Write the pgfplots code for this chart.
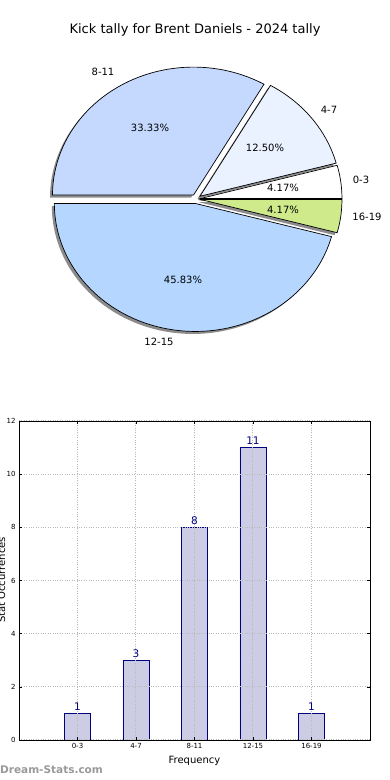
\documentclass[border=0pt]{standalone}
\usepackage{pgfplots}
\pgfplotsset{compat=1.18}
\usepackage{fontspec}
\setmainfont{DejaVu Sans}
\definecolor{cA}{RGB}{255,255,255}
\definecolor{cB}{RGB}{234,241,255}
\definecolor{cC}{RGB}{197,217,255}
\definecolor{cD}{RGB}{180,214,255}
\definecolor{cE}{RGB}{206,234,138}
\definecolor{barfill}{RGB}{204,204,228}
\definecolor{navy}{RGB}{0,0,128}
\def\cx{196}\def\cy{581}\def\rx{141}\def\ry{128}\def\ex{5}\def\ey{4.5}
\newcommand\pieslice[5]{%
 \pgfmathsetmacro\midA{(#1+#2)/2}%
 \pgfmathsetmacro\ox{\cx+\ex*cos(\midA)+#3}%
 \pgfmathsetmacro\oy{\cy+\ey*sin(\midA)+#4}%
 \edef\doslice{\noexpand\addplot[#5, domain=#1:#2, samples=90] ({\ox+\rx*cos(x)},{\oy+\ry*sin(x)}) -- (axis cs:\ox,\oy) -- cycle;}%
 \doslice}
\begin{document}
\begin{tikzpicture}[x=1pt,y=1pt]
\useasboundingbox (0,0) rectangle (390,780);
\clip (0,0) rectangle (390,780);
\begin{axis}[at={(0pt,0pt)}, anchor=south west, scale only axis, width=390pt, height=780pt,
  xmin=0, xmax=390, ymin=0, ymax=780, hide axis, clip=false]
% slice angles from counts 1,3,8,11,1 of 24 (x 15 degrees)
% shadows
\pieslice{0}{15}{-2.5}{-2.5}{fill=black!45, draw=none}
\pieslice{15}{60}{-2.5}{-2.5}{fill=black!45, draw=none}
\pieslice{60}{180}{-2.5}{-2.5}{fill=black!45, draw=none}
\pieslice{180}{345}{-2.5}{-2.5}{fill=black!45, draw=none}
\pieslice{345}{360}{-2.5}{-2.5}{fill=black!45, draw=none}
% slices
\pieslice{0}{15}{0}{0}{fill=cA, draw=black, line width=0.7pt}
\pieslice{15}{60}{0}{0}{fill=cB, draw=black, line width=0.7pt}
\pieslice{60}{180}{0}{0}{fill=cC, draw=black, line width=0.7pt}
\pieslice{180}{345}{0}{0}{fill=cD, draw=black, line width=0.7pt}
\pieslice{345}{360}{0}{0}{fill=cE, draw=black, line width=0.7pt}
\node[font=\fontsize{13}{15}\selectfont] at (axis cs:195,750) {Kick tally for Brent Daniels - 2024 tally};
\begin{scope}[font=\fontsize{10}{12}\selectfont]
\node at (axis cs:103,708) {8-11};
\node at (axis cs:329,670) {4-7};
\node at (axis cs:361,600) {0-3};
\node at (axis cs:367,563) {16-19};
\node at (axis cs:159,438) {12-15};
\node at (axis cs:150,652) {33.33\%};
\node at (axis cs:265,632) {12.50\%};
\node at (axis cs:283,592) {4.17\%};
\node at (axis cs:283,570) {4.17\%};
\node at (axis cs:183,500) {45.83\%};
\end{scope}
\node[anchor=west, text=black!40, font=\bfseries\fontsize{10.5}{13}\selectfont, inner sep=0] at (axis cs:0,10) {Dream-Stats.com};
\node[rotate=90, anchor=base, inner sep=0, font=\fontsize{10}{12}\selectfont] at (axis cs:5,200) {Stat Occurrences};
\end{axis}
\begin{axis}[at={(19pt,40pt)}, anchor=south west, scale only axis, width=351pt, height=319pt,
  xmin=-1, xmax=5, ymin=0, ymax=12,
  xtick={0,1,2,3,4}, xticklabels={0-3,4-7,8-11,12-15,16-19},
  ytick={0,2,4,6,8,10,12},
  grid=major, major grid style={dotted, black!28, line width=1pt},
  axis on top,
  tick align=inside, major tick length=3pt, tick style={black, line width=0.6pt},
  axis line style={black, line width=0.8pt},
  ticklabel style={font=\fontsize{7}{8}\selectfont},
  /pgf/number format/assume math mode=true,
  xlabel={Frequency}, xlabel style={font=\fontsize{10}{12}\selectfont, yshift=-1pt},
]
\addplot[ybar, bar width=26pt, fill=barfill, draw=navy, line width=0.8pt,
  nodes near coords, nodes near coords style={font=\fontsize{10.5}{12}\selectfont, text=navy, inner sep=2.5pt}]
  coordinates {(0,1) (1,3) (2,8) (3,11) (4,1)};
\end{axis}
\end{tikzpicture}
\end{document}
